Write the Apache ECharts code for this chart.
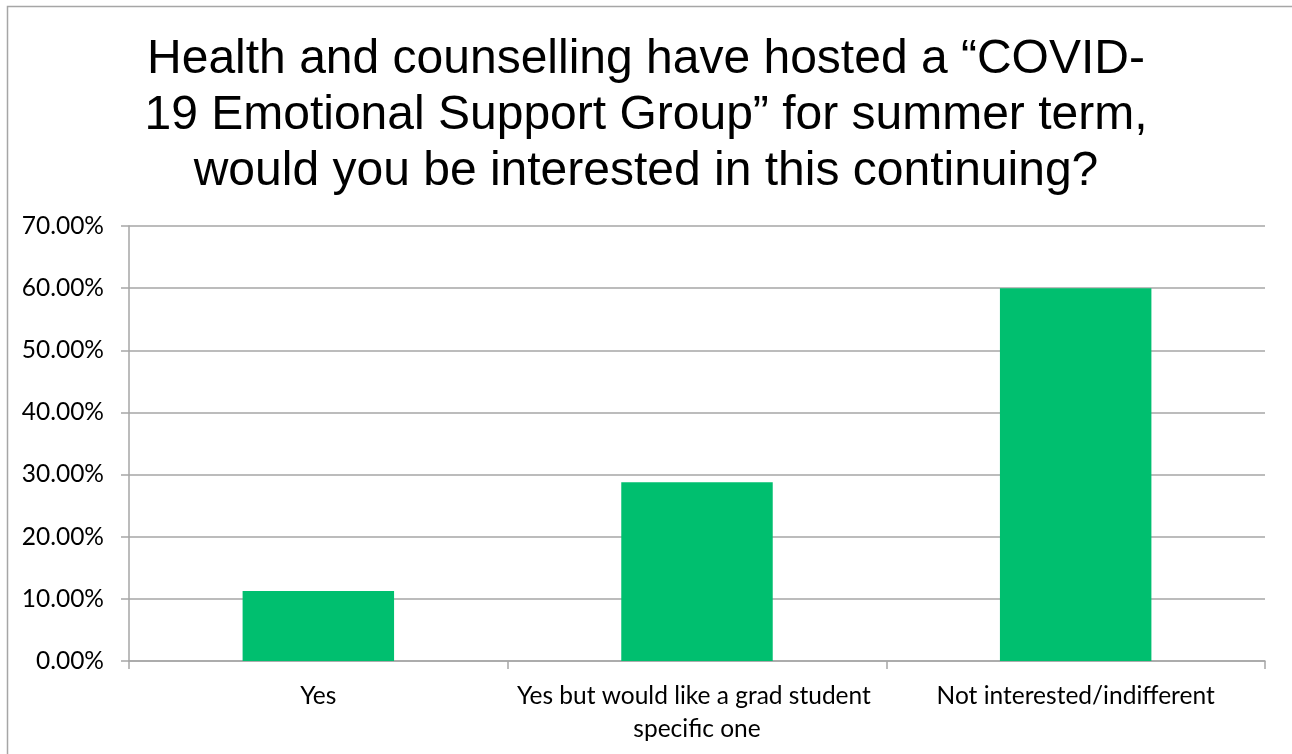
<!DOCTYPE html>
<html>
<head>
<meta charset="utf-8">
<script src="https://cdn.jsdelivr.net/npm/echarts@6/dist/echarts.min.js"></script>
<style>
  html, body { margin: 0; padding: 0; background: #ffffff; }
  #chart { width: 1292px; height: 754px; }
</style>
</head>
<body>
<div id="chart"></div>
<script>
// Survey responses (share of respondents)
const categories = [
  'Yes',
  'Yes but would like a grad student specific one',
  'Not interested/indifferent'
];
const shares = [0.1125, 0.2875, 0.60];
const titleLines = [
  'Health and counselling have hosted a \u201cCOVID-',
  '19 Emotional Support Group\u201d for summer term,',
  'would you be interested in this continuing?'
];

const gray = '#a6a6a6';
const labelFont = 'Lato, "Open Sans", sans-serif';

const chart = echarts.init(document.getElementById('chart'), null, { renderer: 'canvas' });
chart.setOption({
  animation: false,
  backgroundColor: '#ffffff',
  title: {
    text: titleLines.join('\n'),
    left: 'center',
    top: 27,
    textStyle: {
      fontFamily: '"Liberation Sans", Arial, sans-serif',
      fontWeight: 'normal',
      fontSize: 48,
      lineHeight: 56,
      align: 'center',
      color: '#000000'
    }
  },
  graphic: [{
    type: 'rect',
    shape: { x: 7.5, y: 6.5, width: 1300, height: 800 },
    style: { fill: 'none', stroke: gray, lineWidth: 1.5 },
    silent: true
  }],
  grid: { left: 129, right: 27, top: 226, bottom: 93 },
  xAxis: {
    type: 'category',
    data: categories,
    axisLine: { show: true, lineStyle: { color: gray, width: 1.5 } },
    axisTick: { show: true, length: 8, alignWithLabel: false, lineStyle: { color: gray, width: 1.5 } },
    axisLabel: {
      interval: 0,
      margin: 19,
      width: 370,
      overflow: 'break',
      fontFamily: labelFont,
      fontSize: 24.5,
      lineHeight: 33,
      color: '#000000'
    }
  },
  yAxis: {
    type: 'value',
    min: 0,
    max: 0.7,
    interval: 0.1,
    axisLine: { show: true, lineStyle: { color: gray, width: 1.5 } },
    axisTick: { show: true, length: 8, lineStyle: { color: gray, width: 1.5 } },
    splitLine: { show: true, lineStyle: { color: gray, width: 1.5 } },
    axisLabel: {
      margin: 25,
      fontFamily: labelFont,
      fontSize: 24.5,
      color: '#000000',
      formatter: v => (v * 100).toFixed(2) + '%'
    }
  },
  series: [{
    type: 'bar',
    data: shares,
    barCategoryGap: '60%',
    itemStyle: { color: '#00bf6f' }
  }]
});
</script>
</body>
</html>
